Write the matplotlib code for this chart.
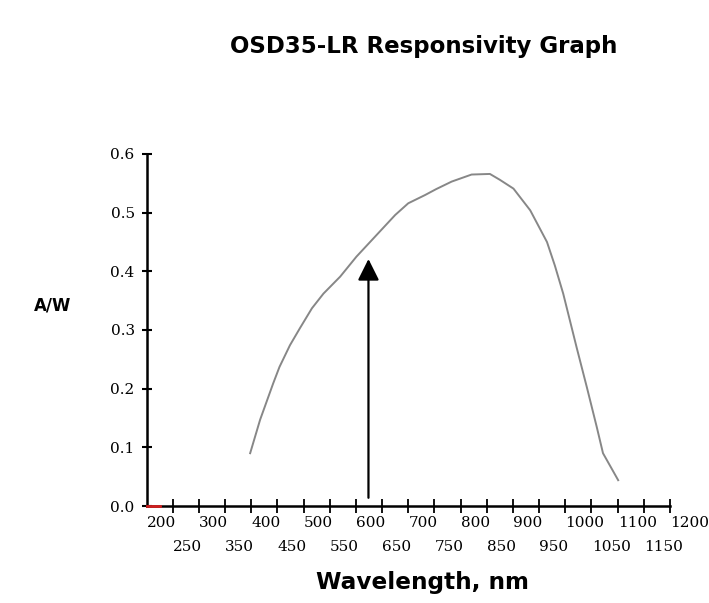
import matplotlib
matplotlib.use("Agg")
import matplotlib.pyplot as plt

# responsivity curve
wavelength = [348, 367, 392, 404, 424, 443, 466, 488, 520, 551, 625, 650, 682, 703, 733, 771,
              806, 825, 851, 883, 915, 930, 946, 972, 991, 1010, 1022, 1051]
responsivity = [0.090, 0.147, 0.209, 0.237, 0.274, 0.303, 0.337, 0.362, 0.391, 0.425, 0.496, 0.516,
                0.530, 0.540, 0.553, 0.565, 0.566, 0.556, 0.541, 0.504, 0.450, 0.410, 0.362, 0.269,
                0.203, 0.135, 0.090, 0.044]

# small red stub at the origin
red_x = [150, 175]
red_y = [0.0, 0.0]

# arrow marker
arrow_x = 574
arrow_from = 0.014
arrow_to = 0.421

x_ticks = list(range(200, 1151, 50))
x_labels = list(range(200, 1201, 50))
y_ticks = [0.0, 0.1, 0.2, 0.3, 0.4, 0.5, 0.6]
y_labels = ["0.0", "0.1", "0.2", "0.3", "0.4", "0.5", "0.6"]

DPI = 100
fig = plt.figure(figsize=(7.09, 6.03), dpi=DPI)
ax = fig.add_axes([146.5 / 709, 1 - 506 / 603, (670 - 146.5) / 709, (506 - 154) / 603])

ax.plot(wavelength, responsivity, color="#878787", lw=1.4, zorder=3)
ax.plot(red_x, red_y, color="#d02020", lw=2, zorder=4, clip_on=False)

ax.annotate("", xy=(arrow_x, arrow_to), xytext=(arrow_x, arrow_from),
            arrowprops=dict(arrowstyle="-|>,head_length=1.3,head_width=0.65",
                            color="black", lw=1.6, shrinkA=0, shrinkB=0),
            zorder=5)

ax.set_xlim(150, 1150)
ax.set_ylim(0, 0.6)

for s in ["top", "right"]:
    ax.spines[s].set_visible(False)
for s in ["left", "bottom"]:
    ax.spines[s].set_linewidth(1.8)
    ax.spines[s].set_color("black")

serif = ["DejaVu Serif"]
ax.set_yticks(y_ticks)
ax.set_yticklabels(y_labels, fontfamily=serif, fontsize=11)
ax.tick_params(axis="y", direction="inout", length=7, width=1.5, pad=5)

ax.set_xticks(x_ticks)
ax.set_xticklabels([])
ax.tick_params(axis="x", direction="inout", length=10, width=1.3)

# staggered x labels, left edge sits on the previous tick
for i, v in enumerate(x_labels):
    dy = -17 if i % 2 == 0 else -41
    ax.annotate(str(v), xy=(v, 0), xytext=(-26, dy), textcoords="offset pixels",
                ha="left", va="center", fontfamily=serif, fontsize=11,
                annotation_clip=False)

fig.text(424 / 709, 1 - 47 / 603, "OSD35-LR Responsivity Graph",
         ha="center", va="center", fontsize=16.5, fontweight="bold", fontfamily="DejaVu Sans")
fig.text(53 / 709, 1 - 306 / 603, "A/W",
         ha="center", va="center", fontsize=12, fontweight="bold", fontfamily="DejaVu Sans")
fig.text(423 / 709, 1 - 583 / 603, "Wavelength, nm",
         ha="center", va="center", fontsize=16.7, fontweight="bold", fontfamily="DejaVu Sans")

fig.savefig("out.png", dpi=DPI)
